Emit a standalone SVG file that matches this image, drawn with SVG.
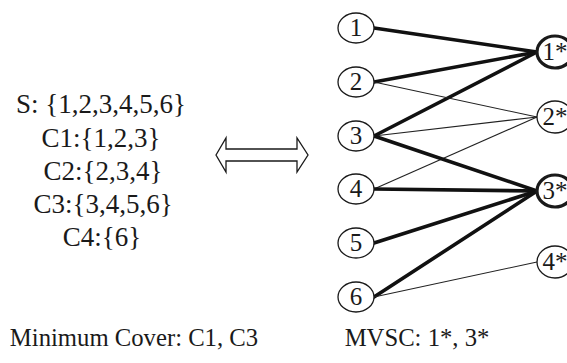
<svg xmlns="http://www.w3.org/2000/svg" width="567" height="363" viewBox="0 0 567 363">
  <style>
    text { fill: #1a1a1a; }
    .set { font-size: 27px; text-anchor: middle; }
    .cap { font-size: 24.7px; text-anchor: middle; }
    .lbl { font-size: 25px; text-anchor: middle; }
    .node { fill: #fff; stroke: #1a1a1a; stroke-width: 1.3; }
    .node.sel { stroke-width: 3.2; }
    .thick { stroke: #111; stroke-width: 3.6; stroke-linecap: round; }
    .thin { stroke: #222; stroke-width: 1.1; }
  </style>

  <rect width="567" height="363" fill="#fff"/>

  <g font-family="Liberation Serif, DejaVu Serif, serif">
  <!-- set cover instance -->
  <g id="instance">
    <text class="set" x="101" y="113">S: {1,2,3,4,5,6}</text>
    <text class="set" x="101" y="147">C1:{1,2,3}</text>
    <text class="set" x="103" y="180">C2:{2,3,4}</text>
    <text class="set" x="103" y="213">C3:{3,4,5,6}</text>
    <text class="set" x="102" y="246">C4:{6}</text>
  </g>

  <!-- equivalence arrow -->
  <g id="equiv">
    <polygon points="216,155 226,138 226,149 297,149 297,138 308,155 297,172 297,161 226,161 226,172"
             fill="#fff" stroke="#1a1a1a" stroke-width="1.3" stroke-linejoin="miter"/>
  </g>

  <!-- connectors -->
  <g id="edges">
    <line class="thick" x1="374" y1="28" x2="537" y2="52"/>
    <line class="thick" x1="374" y1="82" x2="537" y2="52"/>
    <line class="thick" x1="374" y1="136" x2="537" y2="52"/>
    <line class="thin" x1="374" y1="82" x2="537" y2="117"/>
    <line class="thin" x1="374" y1="136" x2="537" y2="117"/>
    <line class="thin" x1="374" y1="189" x2="537" y2="117"/>
    <line class="thick" x1="374" y1="136" x2="537" y2="191"/>
    <line class="thick" x1="374" y1="189" x2="537" y2="191"/>
    <line class="thick" x1="374" y1="243" x2="537" y2="191"/>
    <line class="thick" x1="374" y1="297" x2="537" y2="191"/>
    <line class="thin" x1="374" y1="297" x2="537" y2="262"/>
  </g>

  <!-- element nodes -->
  <g id="n1"><ellipse class="node" cx="356" cy="28" rx="18" ry="15"/><text class="lbl" x="356" y="36">1</text></g>
  <g id="n2"><ellipse class="node" cx="356" cy="82" rx="18" ry="15"/><text class="lbl" x="356" y="90">2</text></g>
  <g id="n3"><ellipse class="node" cx="356" cy="136" rx="18" ry="15"/><text class="lbl" x="356" y="144">3</text></g>
  <g id="n4"><ellipse class="node" cx="356" cy="189" rx="18" ry="15"/><text class="lbl" x="356" y="197">4</text></g>
  <g id="n5"><ellipse class="node" cx="356" cy="243" rx="18" ry="15"/><text class="lbl" x="356" y="251">5</text></g>
  <g id="n6"><ellipse class="node" cx="356" cy="297" rx="18" ry="15"/><text class="lbl" x="356" y="305">6</text></g>

  <!-- subset nodes -->
  <g id="s1"><ellipse class="node sel" cx="555" cy="52" rx="18" ry="16"/><text class="lbl" x="555" y="60">1*</text></g>
  <g id="s2"><ellipse class="node" cx="555" cy="117" rx="18" ry="16"/><text class="lbl" x="555" y="125">2*</text></g>
  <g id="s3"><ellipse class="node sel" cx="555" cy="191" rx="18" ry="16"/><text class="lbl" x="555" y="199">3*</text></g>
  <g id="s4"><ellipse class="node" cx="555" cy="262" rx="18" ry="16"/><text class="lbl" x="555" y="270">4*</text></g>

  <!-- captions -->
  <g id="captions">
    <text class="cap" x="134" y="346">Minimum Cover: C1, C3</text>
    <text class="cap" x="417" y="346">MVSC: 1*, 3*</text>
  </g>
  </g>
</svg>
